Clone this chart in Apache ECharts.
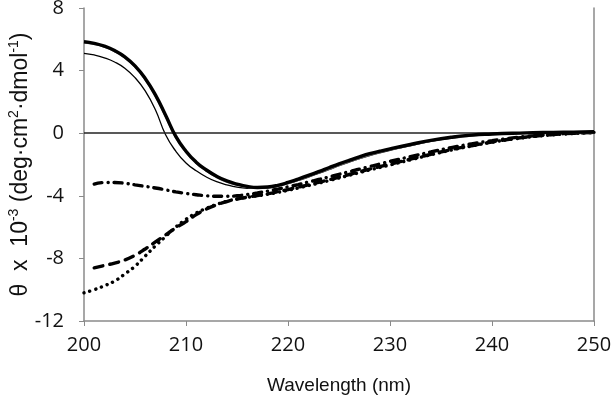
<!DOCTYPE html>
<html>
<head>
<meta charset="utf-8">
<script src="https://cdn.jsdelivr.net/npm/echarts@6/dist/echarts.min.js"></script>
<style>html,body{margin:0;padding:0;background:#fff}#c{width:614px;height:410px}</style>
</head>
<body>
<div id="c"></div>
<script>
// Wavelength (nm)
var wavelengths = [200,201,202,203,204,205,206,207,208,209,210,211,212,213,214,215,216,217,218,219,220,
  221,222,223,224,225,226,227,228,229,230,232,234,236,238,240,242,244,246,248,250];
// Thick solid black
var solidThick = [5.84,5.74,5.56,5.28,4.88,4.3,3.5,2.45,1.15,-0.2,-1.15,-1.85,-2.35,-2.75,-3.05,-3.25,-3.4,-3.47,-3.44,-3.33,-3.15,
  -2.93,-2.7,-2.46,-2.21,-1.96,-1.73,-1.51,-1.31,-1.15,-1.0,-0.72,-0.46,-0.26,-0.12,-0.05,0.0,0.03,0.05,0.07,0.1];
// Grey solid
var solidGrey = [5.8,5.7,5.52,5.24,4.84,4.26,3.46,2.4,1.1,-0.25,-1.2,-1.9,-2.4,-2.8,-3.1,-3.3,-3.44,-3.5,-3.47,-3.37,-3.2,
  -2.99,-2.76,-2.53,-2.29,-2.04,-1.81,-1.59,-1.39,-1.22,-1.06,-0.78,-0.5,-0.3,-0.15,-0.06,0.0,0.03,0.05,0.07,0.1];
// Thin solid black
var solidThin = [5.1,5.0,4.82,4.55,4.15,3.55,2.7,1.5,-0.1,-1.15,-1.9,-2.4,-2.8,-3.1,-3.3,-3.45,-3.52,-3.53,-3.49,-3.38,-3.22,
  -3.02,-2.8,-2.57,-2.33,-2.08,-1.85,-1.63,-1.43,-1.25,-1.09,-0.8,-0.52,-0.31,-0.16,-0.07,-0.01,0.03,0.05,0.07,0.1];
// Dash-dot
var dashDot = [null,-3.25,-3.15,-3.15,-3.2,-3.3,-3.4,-3.5,-3.62,-3.75,-3.85,-3.93,-4.0,-4.03,-4.03,-4.0,-3.92,-3.82,-3.7,-3.57,-3.43,
  -3.28,-3.12,-2.96,-2.8,-2.63,-2.46,-2.3,-2.13,-1.97,-1.8,-1.5,-1.2,-0.92,-0.68,-0.48,-0.3,-0.17,-0.07,0.0,0.05];
// Long dash
var dashed = [null,-8.6,-8.45,-8.3,-8.1,-7.8,-7.4,-6.95,-6.5,-6.05,-5.65,-5.2,-4.85,-4.58,-4.37,-4.21,-4.09,-3.98,-3.87,-3.74,-3.6,
  -3.45,-3.3,-3.14,-2.98,-2.81,-2.64,-2.47,-2.3,-2.14,-1.98,-1.66,-1.35,-1.05,-0.8,-0.56,-0.36,-0.2,-0.08,0.0,0.05];
// Dotted
var dotted = [-10.2,-10.0,-9.75,-9.45,-9.0,-8.5,-7.85,-7.2,-6.6,-6.0,-5.5,-5.1,-4.8,-4.55,-4.35,-4.2,-4.1,-4.0,-3.9,-3.78,-3.65,
  -3.5,-3.35,-3.19,-3.03,-2.86,-2.69,-2.52,-2.35,-2.19,-2.03,-1.7,-1.38,-1.08,-0.82,-0.58,-0.38,-0.22,-0.1,-0.02,0.05];
var yTicks = [-12,-8,-4,0,4,8];

function pairs(vals){ return wavelengths.map(function(w,i){ return [w, vals[i]]; }); }

var chart = echarts.init(document.getElementById('c'), null, {renderer:'canvas'});
var tickFont = '"Open Sans", "Liberation Sans", sans-serif';
var nameFont = '"Liberation Sans", Arial, sans-serif';
var axisGrey = '#8a8a8a';

chart.setOption({
  animation: false,
  backgroundColor: '#fff',
  grid: {left: 84, right: 20, top: 8, bottom: 89, containLabel: false, outerBoundsMode: 'none'},
  xAxis: {
    type: 'value', min: 200, max: 250, interval: 10,
    position: 'bottom',
    axisLine: {show: true, onZero: false, lineStyle: {color: axisGrey, width: 1.5}},
    axisTick: {show: true, length: 5, lineStyle: {color: axisGrey}},
    splitLine: {show: false},
    axisLabel: {fontFamily: tickFont, fontSize: 20, color: '#111', margin: 14},
    name: 'Wavelength (nm)', nameLocation: 'middle', nameGap: 55, nameMoveOverlap: false,
    nameTextStyle: {fontFamily: nameFont, fontSize: 19, color: '#111'}
  },
  yAxis: [{
    type: 'value', min: -12, max: 8, interval: 4,
    axisLine: {show: true, onZero: false, lineStyle: {color: axisGrey, width: 1.5}},
    axisTick: {show: true, length: 5, lineStyle: {color: axisGrey}},
    splitLine: {show: false},
    axisLabel: {fontFamily: tickFont, fontSize: 20, color: '#111', margin: 20,
      formatter: function(v){ return yTicks.indexOf(v) >= 0 ? String(v) : ''; }},
    name: 'θ  x  10{s|-3} (deg·cm{s|2}·dmol{s|-1})',
    nameLocation: 'middle', nameGap: 49, nameRotate: 90, nameMoveOverlap: false,
    nameTextStyle: {fontFamily: nameFont, fontSize: 23, color: '#111', lineHeight: 28,
      rich: {
        s: {fontFamily: nameFont, fontSize: 14, color: '#111', lineHeight: 28, verticalAlign: 'top', padding: [0, 0, 11, 0]}
      }}
  }, {
    type: 'value', min: -12, max: 8, interval: 4, position: 'right',
    axisLine: {show: true, onZero: false, lineStyle: {color: axisGrey, width: 1.5}},
    axisTick: {show: false}, axisLabel: {show: false}, splitLine: {show: false}
  }],
  series: [
    {type: 'line', data: pairs(dotted), symbol: 'none', smooth: true, z: 3,
     lineStyle: {color: '#000', width: 3.4, type: [0.1, 6], cap: 'round'}},
    {type: 'line', data: pairs(dashed), symbol: 'none', smooth: true, z: 3,
     lineStyle: {color: '#000', width: 3.4, type: [9, 7], cap: 'round'}},
    {type: 'line', data: pairs(dashDot), symbol: 'none', smooth: true, z: 3,
     lineStyle: {color: '#000', width: 3.4, type: [8, 6, 0.1, 6], cap: 'round'}},
    {type: 'line', data: pairs(solidThin), symbol: 'none', smooth: true, z: 4,
     lineStyle: {color: '#000', width: 1.3}},
    {type: 'line', data: pairs(solidGrey), symbol: 'none', smooth: true, z: 4,
     lineStyle: {color: '#777', width: 2.2}},
    {type: 'line', data: pairs(solidThick), symbol: 'none', smooth: true, z: 5,
     lineStyle: {color: '#000', width: 3.4},
     markLine: {silent: true, symbol: 'none', label: {show: false},
       lineStyle: {color: '#222', width: 1.5, type: 'solid'},
       data: [{yAxis: 0}]}}
  ]
});
</script>
</body>
</html>
